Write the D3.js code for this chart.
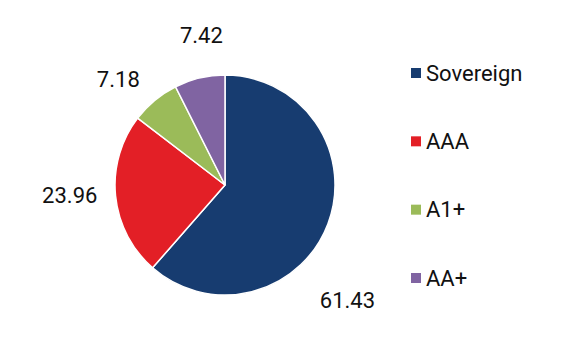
<!DOCTYPE html>
<html><head><meta charset="utf-8">
<script src="https://cdn.jsdelivr.net/npm/d3@7"></script>
<style>body{margin:0;background:#fff}svg{display:block}</style>
</head><body><svg id="c" width="580" height="360"></svg>
<script>
const categories = ["Sovereign", "AAA", "A1+", "AA+"];
const values = [61.43, 23.96, 7.18, 7.42];
const labels = ["61.43", "23.96", "7.18", "7.42"];
const colors = ["#173c70", "#e31f26", "#9bbb59", "#8064a2"];
// extra nudges for label placement (px)
const labelNudgeX = [-18, -6, -11, 11];
const labelNudgeY = [63, -4, 10, -4];

const W = 580, H = 360, cx = 225, cy = 185, R = 110, LR = 150;
const svg = d3.select("#c");
const pie = d3.pie().sort(null).value(d => d)(values);
const arc = d3.arc().innerRadius(0).outerRadius(R);
const labelArc = d3.arc().innerRadius(LR).outerRadius(LR);
const g = svg.append("g").attr("transform", `translate(${cx},${cy})`);
g.selectAll("path").data(pie).join("path")
  .attr("d", arc).attr("fill", (d,i) => colors[i])
  .attr("stroke", "#fff").attr("stroke-width", 1.5);
g.selectAll("text").data(pie).join("text")
  .attr("x", (d,i) => labelArc.centroid(d)[0] + labelNudgeX[i])
  .attr("y", (d,i) => labelArc.centroid(d)[1] + labelNudgeY[i])
  .attr("text-anchor", "middle").attr("dominant-baseline", "central")
  .attr("font-family", "Roboto").attr("font-size", 22).attr("fill", "#111")
  .text((d,i) => labels[i]);

const ly = d3.scalePoint().domain(categories).range([73, 278]);
const lg = svg.append("g");
categories.forEach((c, i) => {
  lg.append("rect").attr("x", 411).attr("y", ly(c) - 5).attr("width", 10).attr("height", 10).attr("fill", colors[i]);
  lg.append("text").attr("x", 426).attr("y", ly(c)).attr("dominant-baseline", "central")
    .attr("font-family", "Roboto").attr("font-size", 22).attr("fill", "#111").text(c);
});
</script></body></html>
